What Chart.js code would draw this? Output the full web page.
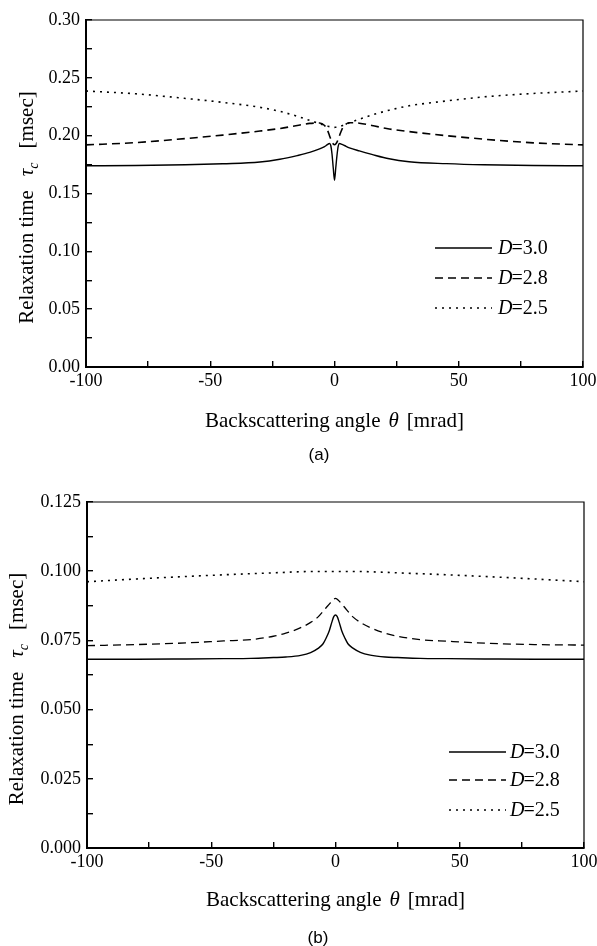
<!DOCTYPE html>
<html>
<head>
<meta charset="utf-8">
<script src="https://cdn.jsdelivr.net/npm/chart.js@4.4.1/dist/chart.umd.min.js"></script>
<style>
  body { margin: 0; background: #fff; }
  canvas { display: block; }
</style>
</head>
<body>
<canvas id="chartA" width="597" height="470"></canvas>
<canvas id="chartB" width="597" height="476"></canvas>
<script>
// backscattering angle samples [mrad]
const thetaA = [-100, -80, -60, -45, -30, -22, -15, -10, -6, -4, -3, -2, -1.5, -1, -0.5, 0,
                0.5, 1, 1.5, 2, 3, 4, 6, 10, 15, 22, 30, 45, 60, 80, 100];
const thetaB = [-100, -80, -60, -45, -34, -25, -20, -14, -10, -7, -5, -3.8, -2.5, -1.5, -0.7, 0,
                0.7, 1.5, 2.5, 3.8, 5, 7, 10, 14, 20, 25, 34, 45, 60, 80, 100];

// relaxation time tau_c [msec], panel (a)
const tauA30 = [0.1740, 0.1742, 0.1748, 0.1757, 0.1772, 0.1796, 0.1828, 0.1855, 0.1885, 0.1905, 0.1920,
                0.1932, 0.1915, 0.1840, 0.1720, 0.1615, 0.1720, 0.1830, 0.1910, 0.1932, 0.1925, 0.1915,
                0.1895, 0.1868, 0.1838, 0.1800, 0.1775, 0.1758, 0.1748, 0.1742, 0.1740];
const tauA28 = [0.1920, 0.1940, 0.1975, 0.2005, 0.2040, 0.2062, 0.2088, 0.2106, 0.2110, 0.2088, 0.2055,
                0.2000, 0.1970, 0.1945, 0.1928, 0.1922, 0.1928, 0.1945, 0.1970, 0.2000, 0.2055, 0.2088,
                0.2112, 0.2108, 0.2088, 0.2058, 0.2035, 0.2000, 0.1970, 0.1938, 0.1920];
const tauA25 = [0.2386, 0.2362, 0.2322, 0.2288, 0.2245, 0.2210, 0.2168, 0.2132, 0.2104, 0.2090, 0.2084,
                0.2078, 0.2076, 0.2074, 0.2073, 0.2072, 0.2073, 0.2074, 0.2076, 0.2078, 0.2086, 0.2094,
                0.2112, 0.2142, 0.2178, 0.2220, 0.2258, 0.2300, 0.2335, 0.2365, 0.2386];

// relaxation time tau_c [msec], panel (b)
const tauB30 = [0.0682, 0.0682, 0.0683, 0.0684, 0.0685, 0.0688, 0.0690, 0.0696, 0.0706, 0.0721, 0.0738,
                0.0758, 0.0785, 0.0815, 0.0836, 0.0842, 0.0836, 0.0815, 0.0785, 0.0758, 0.0738, 0.0722,
                0.0707, 0.0697, 0.0690, 0.0688, 0.0685, 0.0684, 0.0683, 0.0682, 0.0682];
const tauB28 = [0.0731, 0.0735, 0.0741, 0.0748, 0.0753, 0.0765, 0.0776, 0.0796, 0.0815, 0.0835, 0.0855,
                0.0868, 0.0881, 0.0892, 0.0899, 0.0902, 0.0899, 0.0892, 0.0881, 0.0868, 0.0855, 0.0835,
                0.0815, 0.0796, 0.0776, 0.0765, 0.0753, 0.0747, 0.0740, 0.0735, 0.0733];
const tauB25 = [0.0962, 0.0972, 0.0981, 0.0987, 0.0991, 0.0994, 0.0996, 0.0998, 0.0999, 0.0999, 0.0999,
                0.0999, 0.0999, 0.0999, 0.0999, 0.0999, 0.0999, 0.0999, 0.0999, 0.0999, 0.0999, 0.0999,
                0.0999, 0.0998, 0.0996, 0.0994, 0.0991, 0.0987, 0.0981, 0.0972, 0.0962];

const fractalDims = ['3.0', '2.8', '2.5'];
const xTickLabels = [-100, -50, 0, 50, 100];
const yTickLabelsA = [0, 0.05, 0.10, 0.15, 0.20, 0.25, 0.30];
const yTickLabelsB = [0, 0.025, 0.05, 0.075, 0.10, 0.125];

const SERIF = "'Liberation Serif', 'Times New Roman', serif";
const SANS = "'Liberation Sans', Arial, sans-serif";

function pts(xs, ys) {
    return xs.map((x, i) => ({ x: x, y: ys[i] }));
}

function hasLabel(list, v) {
    return list.some(t => Math.abs(t - v) < 1e-9);
}

// draws frame, axis titles, legend and panel letter
const figureText = {
    id: 'figureText',
    afterDraw(chart, args, opts) {
        const ctx = chart.ctx;
        const area = chart.chartArea;
        ctx.save();
        ctx.fillStyle = '#000';
        ctx.strokeStyle = '#000';

        // top and right frame
        ctx.lineWidth = 1.2;
        ctx.beginPath();
        ctx.moveTo(area.left, area.top);
        ctx.lineTo(area.right, area.top);
        ctx.lineTo(area.right, area.bottom);
        ctx.stroke();

        // x title: Backscattering angle  θ  [mrad]
        const xParts = [
            { t: 'Backscattering angle', f: '21px ' + SERIF, g: 8 },
            { t: 'θ', f: 'italic 21px ' + SERIF, g: 8 },
            { t: '[mrad]', f: '21px ' + SERIF, g: 0 }
        ];
        let total = 0;
        xParts.forEach(p => { ctx.font = p.f; p.w = ctx.measureText(p.t).width; total += p.w + p.g; });
        let x = (area.left + area.right) / 2 - total / 2;
        ctx.textBaseline = 'middle';
        ctx.textAlign = 'left';
        xParts.forEach(p => { ctx.font = p.f; ctx.fillText(p.t, x, area.bottom + opts.xTitleOffset); x += p.w + p.g; });

        // y title, rotated: Relaxation time  τc  [msec]
        const yParts = [
            { t: 'Relaxation time', f: '21px ' + SERIF, g: 14, dy: 0 },
            { t: 'τ', f: 'italic 21px ' + SERIF, g: 0, dy: 0 },
            { t: 'c', f: 'italic 14px ' + SERIF, g: 14, dy: 5 },
            { t: '[msec]', f: '21px ' + SERIF, g: 0, dy: 0 }
        ];
        total = 0;
        yParts.forEach(p => { ctx.font = p.f; p.w = ctx.measureText(p.t).width; total += p.w + p.g; });
        ctx.translate(opts.yTitleX, (area.top + area.bottom) / 2 + 14);
        ctx.rotate(-Math.PI / 2);
        ctx.textBaseline = 'alphabetic';
        x = -total / 2;
        yParts.forEach(p => { ctx.font = p.f; ctx.fillText(p.t, x, p.dy); x += p.w + p.g; });
        ctx.setTransform(1, 0, 0, 1, 0, 0);

        // legend
        chart.data.datasets.forEach((ds, i) => {
            const ly = area.bottom - opts.legendRows[i];
            ctx.lineWidth = ds.borderWidth;
            ctx.setLineDash(ds.borderDash || []);
            ctx.beginPath();
            ctx.moveTo(area.right - opts.legendLine[0], ly);
            ctx.lineTo(area.right - opts.legendLine[1], ly);
            ctx.stroke();
            ctx.setLineDash([]);
            ctx.textBaseline = 'middle';
            let tx = area.right - opts.legendText;
            ctx.font = 'italic 20px ' + SERIF;
            ctx.fillText('D', tx, ly + 1);
            tx += ctx.measureText('D').width - 1;
            ctx.font = '20px ' + SERIF;
            ctx.fillText('=' + fractalDims[i], tx, ly + 1);
        });

        // panel letter
        ctx.font = '17px ' + SANS;
        ctx.textAlign = 'center';
        ctx.textBaseline = 'middle';
        ctx.fillText(opts.letter, opts.letterX, opts.letterY);
        ctx.restore();
    }
};

function makeChart(id, xs, series, cfg) {
    const styles = [
        { borderWidth: 1.4, borderDash: [] },
        { borderWidth: cfg.dashWidth, borderDash: [8, 5] },
        { borderWidth: 1.6, borderDash: [2, 5] }
    ];
    return new Chart(document.getElementById(id), {
        type: 'line',
        data: {
            datasets: series.map((ys, i) => ({
                label: 'D=' + fractalDims[i],
                data: pts(xs, ys),
                borderColor: '#000',
                borderWidth: styles[i].borderWidth,
                borderDash: styles[i].borderDash,
                pointRadius: 0,
                fill: false,
                cubicInterpolationMode: 'monotone'
            }))
        },
        options: {
            responsive: false,
            animation: false,
            events: [],
            devicePixelRatio: 1,
            layout: { padding: { top: cfg.top, right: cfg.right, left: 0, bottom: 0 } },
            plugins: {
                legend: { display: false },
                tooltip: { enabled: false },
                figureText: cfg.text
            },
            scales: {
                x: {
                    type: 'linear',
                    min: -100,
                    max: 100,
                    afterFit: s => {
                        s.height = cfg.xHeight;
                        s.paddingLeft = 0;
                        s.paddingRight = 0;
                    },
                    border: { color: '#000', width: 2 },
                    grid: { drawOnChartArea: false, drawTicks: true, tickLength: -6, color: '#000', lineWidth: 1.4 },
                    ticks: {
                        stepSize: 25,
                        autoSkip: false,
                        maxRotation: 0,
                        padding: 9,
                        color: '#000',
                        font: { family: SERIF, size: 18 },
                        callback: v => hasLabel(xTickLabels, v) ? String(v) : ''
                    }
                },
                y: {
                    type: 'linear',
                    min: 0,
                    max: cfg.yMax,
                    afterFit: s => {
                        s.width = cfg.yWidth;
                        s.paddingTop = 0;
                        s.paddingBottom = 0;
                    },
                    border: { color: '#000', width: 2 },
                    grid: { drawOnChartArea: false, drawTicks: true, tickLength: -6, color: '#000', lineWidth: 1.4 },
                    ticks: {
                        stepSize: cfg.yStep,
                        autoSkip: false,
                        padding: 12,
                        color: '#000',
                        font: { family: SERIF, size: 18 },
                        callback: v => hasLabel(cfg.yLabels, v) ? v.toFixed(cfg.decimals) : ''
                    }
                }
            }
        },
        plugins: [figureText]
    });
}

makeChart('chartA', thetaA, [tauA30, tauA28, tauA25], {
    top: 20, right: 14, xHeight: 103, yWidth: 86,
    yMax: 0.30, yStep: 0.025, yLabels: yTickLabelsA, decimals: 2, dashWidth: 1.6,
    text: {
        xTitleOffset: 54, yTitleX: 33,
        legendRows: [119, 89, 59], legendLine: [148, 91], legendText: 85,
        letter: '(a)', letterX: 319, letterY: 455
    }
});

makeChart('chartB', thetaB, [tauB30, tauB28, tauB25], {
    top: 32, right: 13, xHeight: 98, yWidth: 87,
    yMax: 0.125, yStep: 0.0125, yLabels: yTickLabelsB, decimals: 3, dashWidth: 1.3,
    text: {
        xTitleOffset: 52, yTitleX: 23,
        legendRows: [96, 68, 38], legendLine: [135, 78], legendText: 74,
        letter: '(b)', letterX: 318, letterY: 468
    }
});
</script>
</body>
</html>
